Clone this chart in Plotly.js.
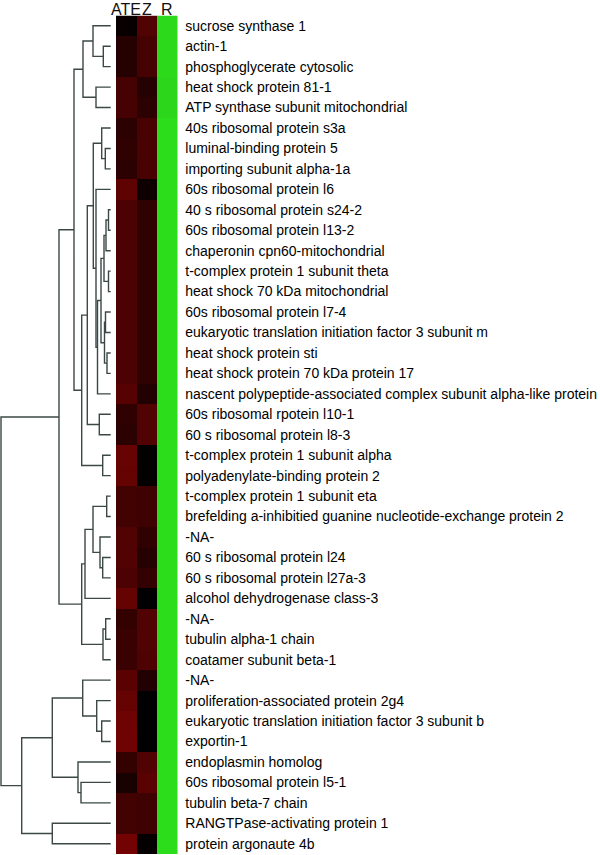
<!DOCTYPE html>
<html>
<head>
<meta charset="utf-8">
<script src="https://cdn.plot.ly/plotly-3.0.1.min.js"></script>
<style>html,body{margin:0;padding:0;background:#fff;}#chart{width:600px;height:855px;}</style>
</head>
<body>
<div id="chart"></div>
<script>
// ---- data ----
const labels = [
  "sucrose synthase 1",
  "actin-1",
  "phosphoglycerate cytosolic",
  "heat shock protein 81-1",
  "ATP synthase subunit mitochondrial",
  "40s ribosomal protein s3a",
  "luminal-binding protein 5",
  "importing subunit alpha-1a",
  "60s ribosomal protein l6",
  "40 s ribosomal protein s24-2",
  "60s ribosomal protein l13-2",
  "chaperonin cpn60-mitochondrial",
  "t-complex protein 1 subunit theta",
  "heat shock 70 kDa mitochondrial",
  "60s ribosomal protein l7-4",
  "eukaryotic translation initiation factor 3 subunit m",
  "heat shock protein sti",
  "heat shock protein 70 kDa protein 17",
  "nascent polypeptide-associated complex subunit alpha-like protein",
  "60s ribosomal rpotein l10-1",
  "60 s ribosomal protein l8-3",
  "t-complex protein 1 subunit alpha",
  "polyadenylate-binding protein 2",
  "t-complex protein 1 subunit eta",
  "brefelding a-inhibitied guanine nucleotide-exchange protein 2",
  "-NA-",
  "60 s ribosomal protein l24",
  "60 s ribosomal protein l27a-3",
  "alcohol dehydrogenase class-3",
  "-NA-",
  "tubulin alpha-1 chain",
  "coatamer subunit beta-1",
  "-NA-",
  "proliferation-associated protein 2g4",
  "eukaryotic translation initiation factor 3 subunit b",
  "exportin-1",
  "endoplasmin homolog",
  "60s ribosomal protein l5-1",
  "tubulin beta-7 chain",
  "RANGTPase-activating protein 1",
  "protein argonaute 4b"
];
const columns = ["ATE", "Z", "R"];
const ateValues = [0.05,0.24,0.24,0.44,0.44,0.27,0.30,0.27,0.60,0.48,0.48,0.48,0.48,0.48,0.48,0.48,0.48,0.48,0.55,0.30,0.28,0.66,0.64,0.42,0.42,0.51,0.51,0.48,0.64,0.33,0.36,0.36,0.57,0.64,0.69,0.70,0.33,0.15,0.42,0.42,0.73];
const zValues   = [0.51,0.44,0.44,0.24,0.27,0.46,0.46,0.46,0.09,0.30,0.30,0.30,0.30,0.30,0.30,0.30,0.30,0.30,0.21,0.51,0.51,0.02,0.02,0.39,0.39,0.30,0.24,0.32,0.00,0.51,0.51,0.50,0.21,0.00,0.00,0.00,0.51,0.57,0.39,0.39,0.03];
const rValues   = [0.97,0.97,0.97,0.95,0.95,0.98,0.98,0.98,0.98,0.98,0.98,0.98,0.98,0.98,0.98,0.98,0.98,0.98,0.98,0.98,0.98,0.98,0.98,0.98,0.98,0.98,0.98,0.98,0.98,0.98,0.98,0.98,0.98,0.98,0.98,0.98,0.98,0.98,0.98,0.98,0.98];

// dendrogram linkage (children indices: 0..40 leaves, 41+ merged nodes), merge heights
const linkLeft   = [1,0,3,42,6,5,9,47,12,48,14,16,51,50,54,8,46,19,57,21,59,44,23,26,25,63,66,29,68,67,62,34,33,32,37,36,74,39,77,71];
const linkRight  = [2,41,4,43,7,45,10,11,13,49,15,17,52,53,18,55,56,20,58,22,60,61,24,27,64,65,28,30,31,69,70,35,72,73,38,75,76,40,78,79];
const linkHeight = [0.074,0.177,0.147,0.277,0.054,0.090,0.022,0.047,0.022,0.067,0.052,0.037,0.062,0.097,0.132,0.147,0.174,0.114,0.234,0.080,0.290,0.367,0.040,0.080,0.107,0.177,0.257,0.050,0.077,0.290,0.517,0.090,0.140,0.280,0.297,0.327,0.584,0.584,0.890,1.097];

// ---- build dendrogram path ----
const nLeaf = labels.length;
const nodeY = [], nodeH = [];
for (let i = 0; i < nLeaf; i++) { nodeY.push(i); nodeH.push(0); }
const dx = [], dy = [];
for (let k = 0; k < linkLeft.length; k++) {
  const a = linkLeft[k], b = linkRight[k], h = linkHeight[k];
  dx.push(nodeH[a], h, h, nodeH[b], null);
  dy.push(nodeY[a], nodeY[a], nodeY[b], nodeY[b], null);
  nodeY.push((nodeY[a] + nodeY[b]) / 2);
  nodeH.push(h);
}

// ---- heatmap matrix (R shown on the green side of the scale) ----
const zMatrix = labels.map((_, i) => [ateValues[i], zValues[i], -rValues[i]]);
const rowIdx = labels.map((_, i) => i);
const colIdx = columns.map((_, j) => j);

const traces = [
  {
    type: "heatmap",
    z: zMatrix,
    x: colIdx,
    y: rowIdx,
    zmin: -1, zmax: 1,
    colorscale: [[0, "rgb(45,225,28)"], [0.5, "rgb(0,0,0)"], [1, "rgb(158,4,4)"]],
    showscale: false,
    xaxis: "x", yaxis: "y",
    hoverinfo: "skip"
  },
  {
    type: "scatter",
    mode: "lines",
    x: dx, y: dy,
    xaxis: "x2", yaxis: "y",
    line: { color: "#3b4846", width: 1.4 },
    hoverinfo: "skip",
    showlegend: false
  }
];

const yTop = 1 - 15.5 / 855;
const layout = {
  width: 600, height: 855,
  margin: { l: 0, r: 0, t: 0, b: 0 },
  paper_bgcolor: "#ffffff",
  plot_bgcolor: "rgba(0,0,0,0)",
  showlegend: false,
  font: { family: "Liberation Sans, Arial, sans-serif", color: "#000" },
  xaxis: {
    domain: [116 / 600, 177.5 / 600],
    range: [-0.5, 2.5],
    anchor: "y",
    showticklabels: false, ticks: "",
    showgrid: false, zeroline: false, showline: false
  },
  xaxis2: {
    domain: [0, 114 / 600],
    range: [1.107, -0.033],
    anchor: "y",
    showticklabels: false, ticks: "",
    showgrid: false, zeroline: false, showline: false
  },
  yaxis: {
    domain: [1 - 854 / 855, yTop],
    range: [40.5, -0.5],
    side: "right",
    anchor: "x",
    automargin: false,
    tickmode: "array",
    tickvals: rowIdx,
    ticktext: labels,
    tickfont: { size: 14, color: "#000" },
    ticks: "outside", ticklen: 4, tickcolor: "rgba(0,0,0,0)",
    showgrid: false, zeroline: false, showline: false
  },
  annotations: columns.map((c, j) => ({
    text: c, x: j, xref: "x", y: yTop, yref: "paper",
    xanchor: "center", yanchor: "bottom", yshift: -4,
    showarrow: false, borderpad: 0,
    font: { size: 16, color: "#111", family: "Liberation Sans, Arial, sans-serif" }
  }))
};

Plotly.newPlot("chart", traces, layout, { displayModeBar: false, staticPlot: true });
</script>
</body>
</html>
